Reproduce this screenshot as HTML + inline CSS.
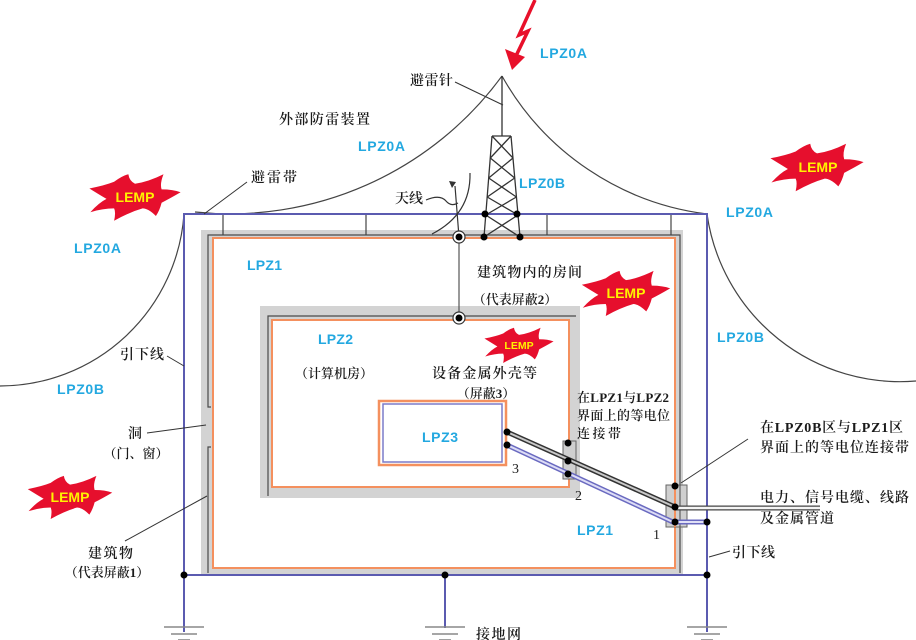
<!DOCTYPE html>
<html><head><meta charset="utf-8"><style>
html,body{margin:0;padding:0;background:#fff;width:916px;height:640px;overflow:hidden}
svg{display:block}
.cn{font-family:"Liberation Serif","Noto Serif CJK SC",serif;font-size:14px;fill:#1a1a1a;font-weight:600}
.cs{font-family:"Liberation Serif","Noto Serif CJK SC",serif;font-size:13px;fill:#1a1a1a;font-weight:600}
.lp{font-family:"Liberation Sans",sans-serif;font-size:14px;font-weight:bold;fill:#23a8e0}
.le{font-family:"Liberation Sans",sans-serif;font-size:14px;font-weight:bold;fill:#fff200}
.num{font-family:"Liberation Serif",serif;font-size:14px;fill:#222}
</style></head><body>
<svg width="916" height="640" viewBox="0 0 916 640" xmlns="http://www.w3.org/2000/svg">
<defs>
<path id="b" d="M-48,-9 Q-32,-12 -22,-16 Q-14,-22 -7,-24 Q-6,-17 0,-14 Q14,-16 30,-24 Q26,-14 28,-8 Q40,-8 48,-5 Q36,2 28,6 Q26,14 22,20 Q14,12 8,12 Q-6,16 -22,25 Q-20,16 -22,12 Q-34,12 -47,16 Q-38,6 -30,2 Q-40,-4 -48,-9 Z" fill="#e60f2d"/>
</defs>
<rect width="916" height="640" fill="#fff"/>

<!-- protection zone arcs -->
<g fill="none" stroke="#444" stroke-width="1.2">
<path d="M0,386 A185,185 0 0 0 184,214"/>
<path d="M195,212 A337,337 0 0 0 502,76"/>
<path d="M502,76 A274,274 0 0 0 707,214"/>
<path d="M707,214 A195,195 0 0 0 916,381"/>
</g>

<!-- building wall -->
<rect x="201" y="230" width="482" height="345" fill="#d3d3d3"/>
<rect x="213" y="238" width="462" height="330" fill="#fff" stroke="#f4905e" stroke-width="2"/>
<path d="M208,573 V447 H211 M211,407 H208 V235 H680 V573" fill="none" stroke="#4a4a4a" stroke-width="1.2"/>

<!-- roof posts -->
<g stroke="#444" stroke-width="1.2">
<line x1="223" y1="214" x2="223" y2="235"/>
<line x1="366" y1="214" x2="366" y2="235"/>
<line x1="547" y1="214" x2="547" y2="235"/>
<line x1="671" y1="214" x2="671" y2="235"/>
</g>

<!-- room LPZ2 -->
<rect x="260" y="306" width="320" height="192" fill="#d3d3d3"/>
<rect x="272" y="320" width="297" height="167" fill="#fff" stroke="#f4905e" stroke-width="2"/>
<path d="M268,496 V316 H576" fill="none" stroke="#4a4a4a" stroke-width="1.2"/>

<!-- LPZ3 box -->
<rect x="379" y="401" width="127" height="64" fill="none" stroke="#f4905e" stroke-width="2.5"/>
<rect x="383" y="404" width="119" height="58" fill="#fff" stroke="#7b7bc8" stroke-width="1.5"/>

<!-- blue down conductors & roof -->
<path d="M184,632 V214 H707 V632" fill="none" stroke="#5b5bb0" stroke-width="2"/>
<path d="M184,575 H707 M445,575 V628" fill="none" stroke="#5b5bb0" stroke-width="2"/>

<!-- connection boxes -->
<rect x="563" y="441" width="13" height="38" fill="#cfcfcf" stroke="#666" stroke-width="1"/>
<rect x="666" y="485" width="21" height="42" fill="#cfcfcf" stroke="#666" stroke-width="1"/>
<line x1="675" y1="485" x2="675" y2="527" stroke="#f4905e" stroke-width="2"/>
<line x1="680" y1="485" x2="680" y2="527" stroke="#4a4a4a" stroke-width="1"/>

<!-- cables -->
<line x1="507" y1="432" x2="675" y2="507" stroke="#333" stroke-width="5"/>
<line x1="507" y1="432" x2="675" y2="507" stroke="#c8c8c8" stroke-width="2"/>
<line x1="507" y1="445" x2="675" y2="523" stroke="#6a6ac0" stroke-width="5"/>
<line x1="507" y1="445" x2="675" y2="523" stroke="#dcdcf6" stroke-width="2"/>
<line x1="675" y1="508" x2="820" y2="508" stroke="#444" stroke-width="5"/>
<line x1="675" y1="508" x2="820" y2="508" stroke="#f4f4f4" stroke-width="2.4"/>
<line x1="675" y1="522" x2="707" y2="522" stroke="#6a6ac0" stroke-width="5"/>
<line x1="675" y1="522" x2="707" y2="522" stroke="#e0e0f6" stroke-width="2"/>

<!-- tower -->
<g stroke="#333" stroke-width="1.3" fill="none">
<line x1="502" y1="76" x2="502" y2="136"/>
<line x1="492" y1="136" x2="511" y2="136"/>
<line x1="492" y1="136" x2="484" y2="237"/>
<line x1="511" y1="136" x2="520" y2="237"/>
<path d="M492,136 L513,158 M511,136 L490.3,158"/>
<path d="M490.3,158 L514.7,178 M513,158 L488.7,178"/>
<path d="M488.7,178 L516.4,197 M514.7,178 L487.2,197"/>
<path d="M487.2,197 L518,215 M516.4,197 L485.7,215"/>
<path d="M485.7,215 L520,237 M518,215 L484,237"/>
</g>

<!-- antenna -->
<g stroke="#333" stroke-width="1.2" fill="none">
<path d="M470,173 Q471,214 432,234"/>
<path d="M455,186 L459,237"/>
<path d="M426,200 Q440,194 446,201 Q451,207 458,203"/>
<line x1="459" y1="237" x2="459" y2="318" stroke="#555"/>
</g>
<path d="M449,181 L456,182 L452,188 Z" fill="#333"/>
<circle cx="459" cy="237" r="6" fill="#fff" stroke="#333" stroke-width="1.2"/>
<circle cx="459" cy="237" r="3.5" fill="#000"/>
<circle cx="459" cy="318" r="6" fill="#fff" stroke="#333" stroke-width="1.2"/>
<circle cx="459" cy="318" r="3.5" fill="#000"/>

<!-- dots -->
<g fill="#000">
<circle cx="507" cy="432" r="3.5"/><circle cx="507" cy="445" r="3.5"/>
<circle cx="568" cy="443" r="3.5"/><circle cx="568" cy="461" r="3.5"/><circle cx="568" cy="474" r="3.5"/>
<circle cx="675" cy="486" r="3.5"/><circle cx="675" cy="507" r="3.5"/><circle cx="675" cy="522" r="3.5"/>
<circle cx="707" cy="522" r="3.5"/><circle cx="707" cy="575" r="3.5"/><circle cx="445" cy="575" r="3.5"/><circle cx="184" cy="575" r="3.5"/>
<circle cx="485" cy="214" r="3.5"/><circle cx="517" cy="214" r="3.5"/><circle cx="484" cy="237" r="3.5"/><circle cx="520" cy="237" r="3.5"/>
</g>

<!-- ground symbols -->
<g stroke="#888" stroke-width="1.6">
<line x1="164" y1="627" x2="204" y2="627"/><line x1="171" y1="634" x2="197" y2="634"/><line x1="178" y1="640" x2="190" y2="640"/>
<line x1="425" y1="627" x2="465" y2="627"/><line x1="432" y1="634" x2="458" y2="634"/><line x1="439" y1="640" x2="451" y2="640"/>
<line x1="687" y1="627" x2="727" y2="627"/><line x1="694" y1="634" x2="720" y2="634"/><line x1="701" y1="640" x2="713" y2="640"/>
</g>

<!-- leaders -->
<g stroke="#333" stroke-width="1">
<line x1="455" y1="82" x2="503" y2="105"/>
<line x1="247" y1="182" x2="204" y2="214"/>
<line x1="167" y1="356" x2="184" y2="366"/>
<line x1="147" y1="433" x2="206" y2="425"/>
<line x1="125" y1="541" x2="207" y2="496"/>
<line x1="748" y1="439" x2="681" y2="483"/>
<line x1="709" y1="557" x2="730" y2="551"/>
</g>

<!-- lightning bolt -->
<polyline points="535,0 519,35 528,31 514,60" fill="none" stroke="#e8102a" stroke-width="3.5" stroke-linejoin="miter"/>
<polygon points="505,49 525,57 512,70" fill="#e8102a"/>

<!-- LEMP bursts -->
<use href="#b" transform="translate(135,197) scale(0.95)"/>
<use href="#b" transform="translate(70,497) scale(0.88)"/>
<use href="#b" transform="translate(817,167) scale(0.97)"/>
<use href="#b" transform="translate(626,293) scale(0.92)"/>
<use href="#b" transform="translate(519,345) scale(0.72)"/>
<text class="le" x="135" y="202" text-anchor="middle">LEMP</text>
<text class="le" x="70" y="502" text-anchor="middle">LEMP</text>
<text class="le" x="818" y="172" text-anchor="middle">LEMP</text>
<text class="le" x="626" y="298" text-anchor="middle">LEMP</text>
<text class="le" x="519" y="349" text-anchor="middle" style="font-size:10.5px">LEMP</text>

<!-- LPZ labels -->
<text class="lp" x="540" y="58" textLength="47">LPZ0A</text>
<text class="lp" x="358" y="151" textLength="47">LPZ0A</text>
<text class="lp" x="519" y="188" textLength="46">LPZ0B</text>
<text class="lp" x="726" y="217" textLength="47">LPZ0A</text>
<text class="lp" x="74" y="253" textLength="47">LPZ0A</text>
<text class="lp" x="247" y="270" textLength="35">LPZ1</text>
<text class="lp" x="318" y="344" textLength="35">LPZ2</text>
<text class="lp" x="717" y="342" textLength="47">LPZ0B</text>
<text class="lp" x="57" y="394" textLength="47">LPZ0B</text>
<text class="lp" x="422" y="442" textLength="36">LPZ3</text>
<text class="lp" x="577" y="535" textLength="36">LPZ1</text>

<!-- Chinese labels -->
<text class="cn" x="410" y="85" textLength="43">避雷针</text>
<text class="cn" x="279" y="124" textLength="91">外部防雷装置</text>
<text class="cn" x="251" y="182" textLength="46">避雷带</text>
<text class="cn" x="395" y="203" textLength="28">天线</text>
<text class="cn" x="477" y="277" textLength="105">建筑物内的房间</text>
<text class="cs" x="515" y="304" text-anchor="middle">（代表屏蔽2）</text>
<text class="cn" x="120" y="359" textLength="44">引下线</text>
<text class="cs" x="334" y="378" text-anchor="middle">（计算机房）</text>
<text class="cn" x="432" y="378" textLength="105">设备金属外壳等</text>
<text class="cs" x="486" y="398" text-anchor="middle">（屏蔽3）</text>
<text class="cs" x="577" y="402" textLength="92">在LPZ1与LPZ2</text>
<text class="cs" x="577" y="420" textLength="93">界面上的等电位</text>
<text class="cs" x="577" y="438" textLength="44">连接带</text>
<text class="cn" x="760" y="432" textLength="143">在LPZ0B区与LPZ1区</text>
<text class="cn" x="760" y="452" textLength="149">界面上的等电位连接带</text>
<text class="cn" x="128" y="438">洞</text>
<text class="cs" x="136" y="458" text-anchor="middle">（门、窗）</text>
<text class="num" x="512" y="473">3</text>
<text class="num" x="575" y="500">2</text>
<text class="num" x="653" y="539">1</text>
<text class="cn" x="760" y="502" textLength="149">电力、信号电缆、线路</text>
<text class="cn" x="760" y="523" textLength="74">及金属管道</text>
<text class="cn" x="732" y="557" textLength="43">引下线</text>
<text class="cn" x="88" y="558" textLength="45">建筑物</text>
<text class="cs" x="107" y="577" text-anchor="middle">（代表屏蔽1）</text>
<text class="cn" x="476" y="639" textLength="45">接地网</text>
</svg>
</body></html>
